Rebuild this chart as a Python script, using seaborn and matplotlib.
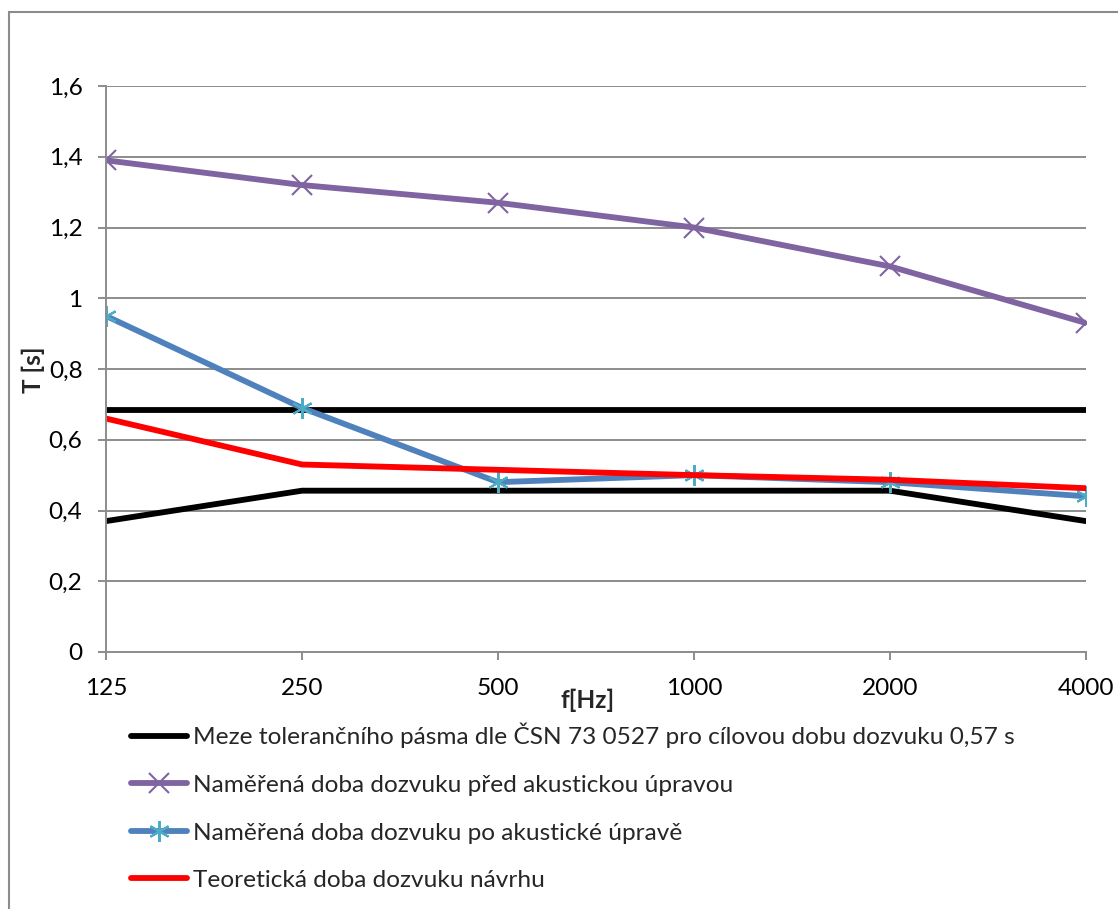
import matplotlib
matplotlib.use("Agg")
import matplotlib.pyplot as plt
import matplotlib.patches as mpatches
from matplotlib.ticker import FuncFormatter, FixedLocator
import seaborn as sns
import pandas as pd

freqs = ["125", "250", "500", "1000", "2000", "4000"]
tol_upper = [0.684, 0.684, 0.684, 0.684, 0.684, 0.684]
tol_lower = [0.37, 0.456, 0.456, 0.456, 0.456, 0.37]
before = [1.39, 1.32, 1.27, 1.20, 1.09, 0.93]
after = [0.95, 0.69, 0.48, 0.50, 0.48, 0.44]
theory = [0.66, 0.53, 0.515, 0.50, 0.487, 0.463]
y_ticks = [0, 0.2, 0.4, 0.6, 0.8, 1.0, 1.2, 1.4, 1.6]

labels = [
    "Meze tolerančního pásma dle ČSN 73 0527 pro cílovou dobu dozvuku 0,57 s",
    "Naměřená doba dozvuku před akustickou úpravou",
    "Naměřená doba dozvuku po akustické úpravě",
    "Teoretická doba dozvuku návrhu",
]

sns.set_theme(style="white")
plt.rcParams["font.family"] = ["Lato", "DejaVu Sans"]
FS = 17.6

W, H = 1118, 909
fig = plt.figure(figsize=(W / 100, H / 100), dpi=100)
ax = fig.add_axes([106 / W, 1 - 652 / H, (1086 - 106) / W, (652 - 86) / H])

pos = list(range(len(freqs)))
df = pd.DataFrame({"pos": pos, "upper": tol_upper, "lower": tol_lower,
                   "before": before, "after": after, "theory": theory})

LW = 4.2
sns.lineplot(data=df, x="pos", y="upper", ax=ax, color="black", linewidth=LW,
             label=labels[0], solid_capstyle="round")
sns.lineplot(data=df, x="pos", y="lower", ax=ax, color="black", linewidth=LW,
             solid_capstyle="round")
sns.lineplot(data=df, x="pos", y="before", ax=ax, color="#8064A2", linewidth=LW,
             marker="x", markersize=14, markeredgewidth=1.5, markeredgecolor="#8064A2",
             label=labels[1], solid_capstyle="round")
sns.lineplot(data=df, x="pos", y="after", ax=ax, color="#4F81BD", linewidth=LW,
             marker=(6, 2, 0), markersize=15, markeredgewidth=1.5, markeredgecolor="#4BACC6",
             label=labels[2], solid_capstyle="round")
sns.lineplot(data=df, x="pos", y="theory", ax=ax, color="#FF0000", linewidth=LW,
             label=labels[3], solid_capstyle="round")

ax.set_xlim(0, 5)
ax.set_ylim(0, 1.6)
ax.xaxis.set_major_locator(FixedLocator(pos))
ax.set_xticklabels(freqs)
ax.yaxis.set_major_locator(FixedLocator(y_ticks))
ax.yaxis.set_major_formatter(FuncFormatter(lambda v, p: ("%g" % round(v, 2)).replace(".", ",")))

grid_c = "#8C8C8C"
ax.grid(axis="y", color=grid_c, linewidth=1.4)
ax.grid(axis="x", visible=False)
ax.set_axisbelow(True)
for s in ["top", "right"]:
    ax.spines[s].set_visible(False)
for s in ["left", "bottom"]:
    ax.spines[s].set_color(grid_c)
    ax.spines[s].set_linewidth(1.4)
ax.tick_params(axis="both", colors=grid_c, labelcolor="black", labelsize=FS,
               length=6, width=1.4)
ax.tick_params(axis="x", direction="out", pad=13, bottom=True)
ax.tick_params(axis="y", direction="out", pad=11, left=True)

ax.set_xlabel("f[Hz]", fontsize=FS, fontweight="bold", va="center")
ax.xaxis.set_label_coords((588 - 106) / 980, -(700 - 652) / 566)
ax.set_ylabel("T [s]", fontsize=FS, fontweight="bold", va="center")
ax.yaxis.set_label_coords((33 - 106) / 980, (652 - 370) / 566)

handles, labs = ax.get_legend_handles_labels()
ax.get_legend().remove()
fig.legend(handles, labs, loc="upper left", bbox_to_anchor=(131 / W, 1 - 723 / H),
           frameon=False, fontsize=FS, handlelength=2.3, handletextpad=0.25,
           labelspacing=1.08, borderaxespad=0, borderpad=0)

border = mpatches.Rectangle((9 / W, -0.1), 1.2, 1.1 - 12 / H,
                            transform=fig.transFigure, fill=False,
                            edgecolor="#8C8C8C", linewidth=1.5, clip_on=False)
fig.patches.append(border)

fig.savefig("out.png", dpi=100)
